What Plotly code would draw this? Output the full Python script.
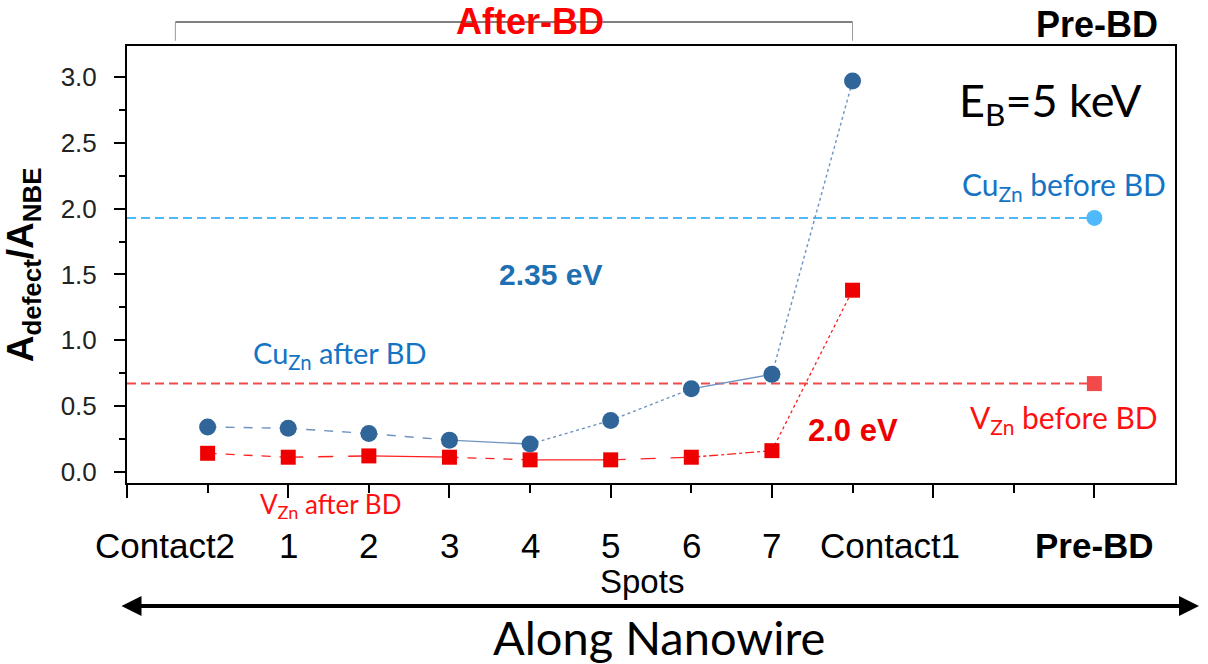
import plotly.graph_objects as go

# ---------------- data ----------------
spot_x = [1, 2, 3, 4, 5, 6, 7, 8, 9]
cu_after = [0.34, 0.33, 0.29, 0.24, 0.21, 0.39, 0.63, 0.74, 2.97]
v_after = [0.14, 0.11, 0.12, 0.11, 0.09, 0.09, 0.11, 0.16, 1.38]
pre_bd_x = 12
cu_before = 1.93
v_before = 0.67
tick_labels = ["Contact2", "1", "2", "3", "4", "5", "6", "7", "Contact1", "<b>Pre-BD</b>"]
tick_label_pos = [0.47, 2, 3, 4, 5, 6, 7, 8, 9.47, 12]
major_ticks_x = [0, 2, 4, 6, 8, 10, 12]
minor_ticks_x = [1, 3, 5, 7, 9, 11]
y_ticks = [0.0, 0.5, 1.0, 1.5, 2.0, 2.5, 3.0]
y_minor = [0.25, 0.75, 1.25, 1.75, 2.25, 2.75]

# ---------------- styles ----------------
X_RANGE = [0, 13]
Y_RANGE = [-0.086, 3.237]
ARIAL = "Liberation Sans, Arial, sans-serif"
CAL = "Lato, Carlito, Calibri, sans-serif"
BLUE_PT = "#30659a"
BLUE_LN = "#6f93c0"
RED_PT = "#ee0000"
RED_LN = "#ff2020"
LIGHT_BLUE = "#4fb9fb"
LIGHT_RED = "#f24a4a"
OFFICE_BLUE = "#1474c4"
blue_dash = ["dash", "dash", "dash", "solid", "dot", "dot", "solid", "dot"]
red_dash = ["dash", "longdash", "solid", "dash", "solid", "longdash", "dashdot", "dot"]

fig = go.Figure()

# reference (pre-BD) horizontal dashed lines, from axis start to the Pre-BD position
fig.add_trace(go.Scatter(x=[X_RANGE[0], pre_bd_x], y=[cu_before, cu_before], mode="lines",
                         line=dict(color=LIGHT_BLUE, width=2, dash="9px,5px"), hoverinfo="skip"))
fig.add_trace(go.Scatter(x=[X_RANGE[0], pre_bd_x], y=[v_before, v_before], mode="lines",
                         line=dict(color=LIGHT_RED, width=2, dash="9px,5px"), hoverinfo="skip"))

# connecting segments
for i in range(len(spot_x) - 1):
    fig.add_trace(go.Scatter(x=spot_x[i:i + 2], y=cu_after[i:i + 2], mode="lines",
                             line=dict(color=BLUE_LN, width=1.4, dash=blue_dash[i]), hoverinfo="skip"))
    fig.add_trace(go.Scatter(x=spot_x[i:i + 2], y=v_after[i:i + 2], mode="lines",
                             line=dict(color=RED_LN, width=1.3, dash=red_dash[i]), hoverinfo="skip"))

# markers
fig.add_trace(go.Scatter(x=spot_x, y=cu_after, mode="markers", name="Cu_Zn after BD",
                         marker=dict(symbol="circle", size=17, color=BLUE_PT)))
fig.add_trace(go.Scatter(x=spot_x, y=v_after, mode="markers", name="V_Zn after BD",
                         marker=dict(symbol="square", size=15, color=RED_PT)))
fig.add_trace(go.Scatter(x=[pre_bd_x], y=[cu_before], mode="markers", name="Cu_Zn before BD",
                         marker=dict(symbol="circle", size=16, color=LIGHT_BLUE)))
fig.add_trace(go.Scatter(x=[pre_bd_x], y=[v_before], mode="markers", name="V_Zn before BD",
                         marker=dict(symbol="square", size=15, color=LIGHT_RED)))

annotations = []
# x tick labels (placed on data positions)
for pos, lab in zip(tick_label_pos, tick_labels):
    annotations.append(dict(x=pos, y=-0.143, xref="x", yref="paper", text=lab, showarrow=False,
                            xanchor="center", yanchor="middle",
                            font=dict(family=ARIAL, size=35, color="black")))

def frac(v):
    return (v - X_RANGE[0]) / (X_RANGE[1] - X_RANGE[0])

annotations += [
    dict(x=0.491, y=-0.226, xref="paper", yref="paper", text="Spots", showarrow=False,
         xanchor="center", yanchor="middle",
         font=dict(family=ARIAL, size=33, color="black")),
    dict(x=0.508, y=-0.352, xref="paper", yref="paper", text="Along Nanowire", showarrow=False,
         xanchor="center", yanchor="middle",
         font=dict(family=CAL, size=47, color="black")),
    # double-headed arrow
    dict(x=1.0229, y=-0.2815, xref="x domain", yref="y domain",
         ax=-0.0067, ay=-0.2815, axref="x domain", ayref="y domain",
         text="", showarrow=True, arrowhead=2, arrowside="end+start",
         arrowwidth=4, arrowsize=1, arrowcolor="black"),
    # y title
    dict(x=-0.0995, y=0.5, xref="paper", yref="paper", textangle=-90,
         text="<b>A<sub>defect</sub>/A<sub>NBE</sub></b>", showarrow=False,
         xanchor="center", yanchor="middle",
         font=dict(family=ARIAL, size=37, color="black")),
    # top labels
    dict(x=5.0, y=1.055, xref="x", yref="paper", text="<b>After-BD</b>", showarrow=False,
         xanchor="center", yanchor="middle", font=dict(family=ARIAL, size=36, color="#ff0000")),
    dict(x=12.03, y=1.05, xref="x", yref="paper", text="<b>Pre-BD</b>", showarrow=False,
         xanchor="center", yanchor="middle", font=dict(family=ARIAL, size=36, color="black")),
    # in-plot labels
    dict(x=11.45, y=2.80, xref="x", yref="y", text="E<sub>B</sub>=5 keV", showarrow=False,
         xanchor="center", yanchor="middle",
         font=dict(family=CAL, size=45, color="black")),
    dict(x=11.62, y=2.17, xref="x", yref="y", text="Cu<sub>Zn</sub> before BD", showarrow=False,
         xanchor="center", yanchor="middle",
         font=dict(family=CAL, size=30, color=OFFICE_BLUE)),
    dict(x=11.62, y=0.40, xref="x", yref="y", text="V<sub>Zn</sub> before BD", showarrow=False,
         xanchor="center", yanchor="middle",
         font=dict(family=CAL, size=30, color="#ff1010")),
    dict(x=2.64, y=0.89, xref="x", yref="y", text="Cu<sub>Zn</sub> after BD", showarrow=False,
         xanchor="center", yanchor="middle",
         font=dict(family=CAL, size=29, color=OFFICE_BLUE)),
    dict(x=2.52, y=-0.052, xref="x", yref="paper", text="V<sub>Zn</sub> after BD", showarrow=False,
         xanchor="center", yanchor="middle",
         font=dict(family=CAL, size=26, color="#ff1010")),
    dict(x=5.25, y=1.50, xref="x", yref="y", text="<b>2.35 eV</b>", showarrow=False,
         xanchor="center", yanchor="middle",
         font=dict(family=ARIAL, size=30, color="#1f6fb3")),
    dict(x=9.0, y=0.317, xref="x", yref="y", text="<b>2.0 eV</b>", showarrow=False,
         xanchor="center", yanchor="middle",
         font=dict(family=ARIAL, size=31, color="#ee0000")),
]

# bracket above plot for the After-BD region
br_x0, br_x1 = 0.6, 9.0
shapes = [
    dict(type="line", xref="paper", yref="paper", x0=frac(br_x0), x1=frac(br_x1), y0=1.055, y1=1.055,
         line=dict(color="#555555", width=1.5)),
    dict(type="line", xref="paper", yref="paper", x0=frac(br_x0), x1=frac(br_x0), y0=1.055, y1=1.012,
         line=dict(color="#999999", width=1)),
    dict(type="line", xref="paper", yref="paper", x0=frac(br_x1), x1=frac(br_x1), y0=1.055, y1=1.012,
         line=dict(color="#999999", width=1)),
]

fig.update_layout(
    width=1208, height=664,
    margin=dict(l=127, r=33, t=46, b=181),
    paper_bgcolor="white", plot_bgcolor="white",
    showlegend=False,
    annotations=annotations,
    shapes=shapes,
    xaxis=dict(range=X_RANGE, showgrid=False, zeroline=False,
               showline=True, linecolor="black", linewidth=2, mirror=True,
               tickmode="array", tickvals=major_ticks_x, ticks="outside", ticklen=13,
               tickwidth=1.5, tickcolor="black", showticklabels=False,
               minor=dict(tickmode="array", tickvals=minor_ticks_x, ticks="outside",
                          ticklen=8, tickwidth=1.5, tickcolor="black", showgrid=False)),
    yaxis=dict(range=Y_RANGE, showgrid=False, zeroline=False,
               showline=True, linecolor="black", linewidth=2, mirror=True,
               tickmode="array", tickvals=y_ticks, tickformat=".1f", ticks="outside",
               ticklen=11, tickwidth=1.5, tickcolor="black",
               ticklabelstandoff=12,
               tickfont=dict(family=ARIAL, size=26, color="#222222"),
               minor=dict(tickmode="array", tickvals=y_minor, ticks="outside",
                          ticklen=6, tickwidth=1.5, tickcolor="black", showgrid=False)),
)

fig.write_html("out.html", config={"displayModeBar": False},
               post_script="document.body.style.margin='0px';document.body.style.overflow='hidden';")
